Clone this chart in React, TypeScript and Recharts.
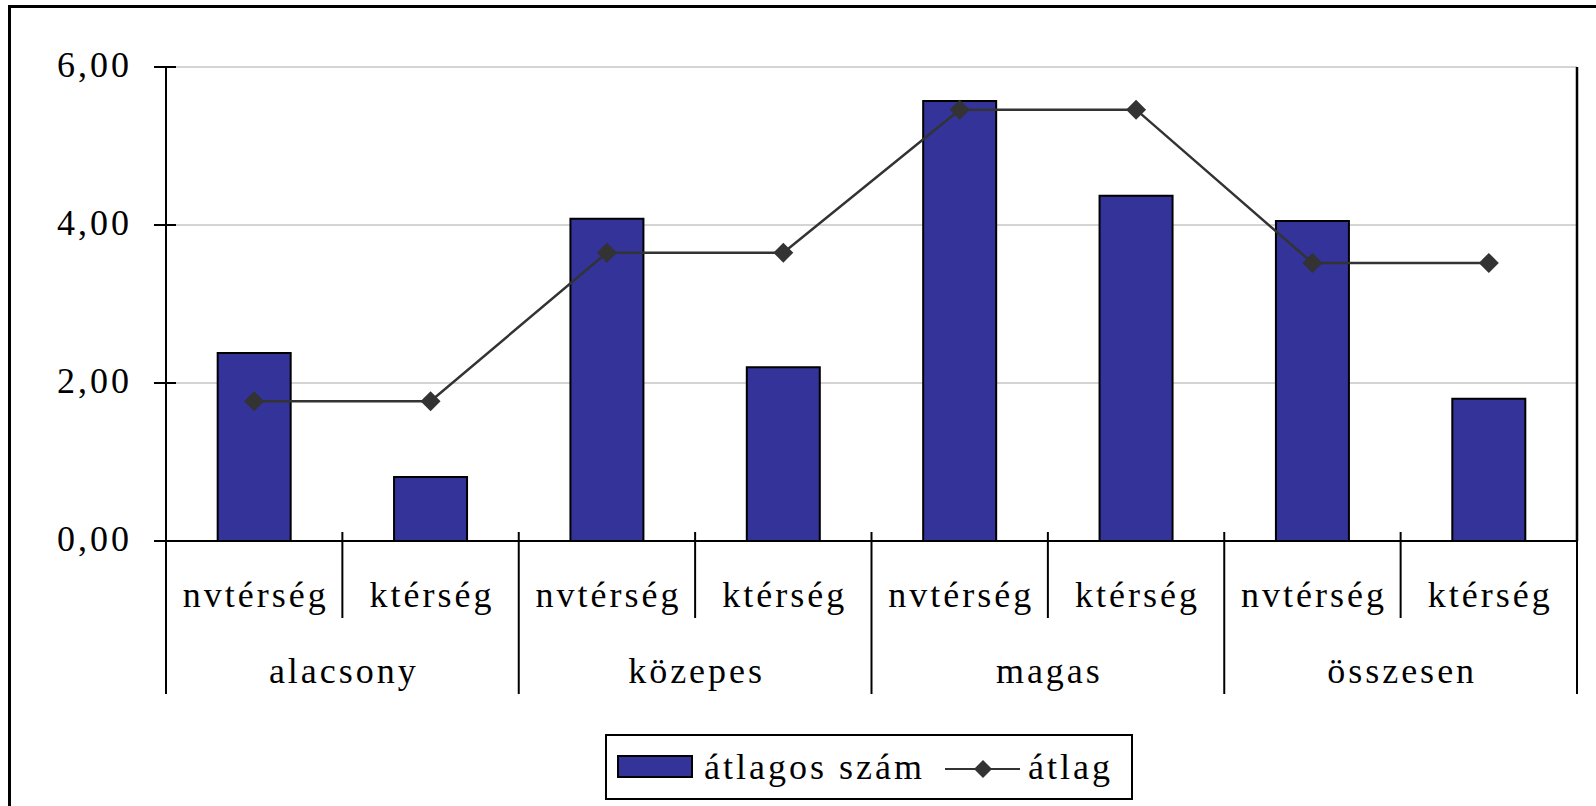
import React from 'react';
import { ComposedChart, Bar, Line, XAxis, YAxis, CartesianGrid } from 'recharts';

const categories = ['nvtérség', 'ktérség', 'nvtérség', 'ktérség', 'nvtérség', 'ktérség', 'nvtérség', 'ktérség'];
const groups = ['alacsony', 'közepes', 'magas', 'összesen'];
const barValues = [2.38, 0.81, 4.08, 2.2, 5.57, 4.37, 4.05, 1.8];
const lineValues = [1.77, 1.77, 3.65, 3.65, 5.46, 5.46, 3.52, 3.52];
const yTicks = [0, 2, 4, 6];
const barName = 'átlagos szám';
const lineName = 'átlag';

const BAR_FILL = '#333399';
const LINE_COLOR = '#333333';
const FONT = '"Liberation Serif", "Times New Roman", serif';
const FS = 36;
const LS = 3;

const CHART_W = 1596;
const CHART_H = 806;
const MARGIN = { top: 67, right: 18, bottom: 264, left: 165 };
const PLOT_W = CHART_W - MARGIN.left - MARGIN.right - 2;

const data = categories.map((c, i) => ({ name: c, bar: barValues[i], avg: lineValues[i] }));

const fmt = (v: number) => v.toFixed(2).replace('.', ',');

const YTick = (props: any) => {
  const { x, y, payload } = props;
  return (
    <g>
      <line x1={x - 12} x2={x + 10} y1={y} y2={y} stroke="#000" strokeWidth={2} />
      <text x={x - 34} y={y + 10} textAnchor="end" fontFamily={FONT} fontSize={FS} fill="#000" style={{ letterSpacing: LS }}>
        {fmt(payload.value)}
      </text>
    </g>
  );
};

const CatTick = (props: any) => {
  const { x, y, payload, index } = props;
  const count = props.visibleTicksCount || categories.length;
  const axisW = typeof props.width === 'number' && props.width > 10 ? props.width : PLOT_W;
  const band = axisW / count;
  const right = x + band / 2;
  const left = x - band / 2;
  const rightIsGroupEdge = index % 2 === 1;
  return (
    <g>
      <text x={x + LS / 2} y={y + 66} textAnchor="middle" fontFamily={FONT} fontSize={FS} fill="#000" style={{ letterSpacing: LS }}>
        {payload.value}
      </text>
      {index === 0 && <line x1={left} x2={left} y1={y - 9} y2={y + 153} stroke="#000" strokeWidth={2} />}
      <line x1={right} x2={right} y1={y - 9} y2={y + (rightIsGroupEdge ? 153 : 77)} stroke="#000" strokeWidth={2} />
      {index % 2 === 0 && (
        <text x={right + LS / 2} y={y + 142} textAnchor="middle" fontFamily={FONT} fontSize={FS} fill="#000" style={{ letterSpacing: LS }}>
          {groups[index / 2]}
        </text>
      )}
    </g>
  );
};

const Diamond = (props: any) => {
  const { cx, cy, index } = props;
  if (cx == null || cy == null) return <g key={index} />;
  const r = 10;
  return <path key={index} d={`M${cx},${cy - r}L${cx + r},${cy}L${cx},${cy + r}L${cx - r},${cy}Z`} fill={LINE_COLOR} stroke="none" />;
};

const LegendBox = () => (
  <div style={{ position: 'absolute', left: 605, top: 734, width: 528, height: 66 }}>
    <svg width={528} height={66} style={{ display: 'block' }}>
      <rect x={1} y={1} width={526} height={64} fill="#fff" stroke="#000" strokeWidth={2} />
      <rect x={13} y={22} width={74} height={21} fill={BAR_FILL} stroke="#000" strokeWidth={2} />
      <text x={99} y={45} fontFamily={FONT} fontSize={FS} fill="#000" style={{ letterSpacing: LS }}>{barName}</text>
      <line x1={340} x2={415} y1={35} y2={35} stroke={LINE_COLOR} strokeWidth={2} />
      <path d="M378,26L387,35L378,44L369,35Z" fill={LINE_COLOR} />
      <text x={423} y={45} fontFamily={FONT} fontSize={FS} fill="#000" style={{ letterSpacing: LS }}>{lineName}</text>
    </svg>
  </div>
);

export default function App() {
  return (
    <div style={{ position: 'absolute', left: 0, top: 0, width: CHART_W, height: CHART_H, overflow: 'hidden', background: '#fff' }}>
      <div style={{ position: 'absolute', left: 8, top: 5, width: 1800, height: 1000, border: '3px solid #000' }} />
      <div style={{ position: 'absolute', left: 0, top: 0 }}>
        <ComposedChart width={CHART_W} height={CHART_H} data={data} margin={MARGIN} barCategoryGap="29.3%">
          <CartesianGrid vertical={false} stroke="#aaaaaa" strokeWidth={1} />
          <XAxis
            dataKey="name"
            height={1}
            interval={0}
            tickSize={0}
            tickMargin={0}
            tickLine={false}
            axisLine={{ stroke: '#000', strokeWidth: 2 }}
            tick={<CatTick />}
          />
          <YAxis
            domain={[0, 6]}
            ticks={yTicks}
            width={1}
            tickSize={0}
            tickMargin={0}
            tickLine={false}
            interval={0}
            axisLine={{ stroke: '#000', strokeWidth: 2 }}
            tick={<YTick />}
          />
          <YAxis
            yAxisId="right"
            orientation="right"
            domain={[0, 6]}
            width={1}
            tick={false}
            tickLine={false}
            axisLine={{ stroke: '#000', strokeWidth: 2.5 }}
          />
          <Bar dataKey="bar" name={barName} fill={BAR_FILL} stroke="#000" strokeWidth={2} isAnimationActive={false} />
          <Line
            dataKey="avg"
            name={lineName}
            stroke={LINE_COLOR}
            strokeWidth={2.5}
            dot={Diamond}
            activeDot={false}
            isAnimationActive={false}
          />
        </ComposedChart>
      </div>
      <LegendBox />
    </div>
  );
}
